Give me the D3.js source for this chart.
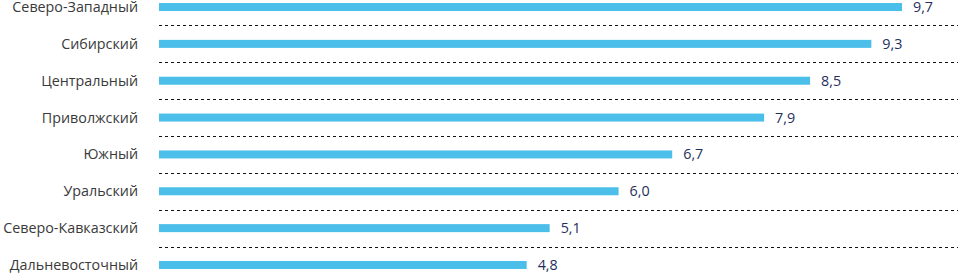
<!DOCTYPE html>
<html>
<head>
<meta charset="utf-8">
<script src="https://cdn.jsdelivr.net/npm/d3@7"></script>
<style>
  body { margin: 0; background: #fff; }
  svg { display: block; }
</style>
</head>
<body>
<script>
// данные по федеральным округам
const regions = ['Северо-Западный', 'Сибирский', 'Центральный', 'Приволжский', 'Южный', 'Уральский', 'Северо-Кавказский', 'Дальневосточный'];
const values = [9.7, 9.3, 8.5, 7.9, 6.7, 6.0, 5.1, 4.8];

const W = 958, H = 274;
const left = 159;

const svg = d3.select('body').append('svg')
    .attr('width', W)
    .attr('height', H);

const x = d3.scaleLinear()
    .domain([0, 9.7])
    .range([left, 902]);

const y = d3.scaleBand()
    .domain(regions)
    .range([-11.4, 283.4]);

// пунктирные разделители между строками
svg.append('g')
    .selectAll('line')
    .data(regions.slice(1))
    .join('line')
    .attr('x1', left)
    .attr('x2', W)
    .attr('y1', d => Math.round(y(d)) + 0.5)
    .attr('y2', d => Math.round(y(d)) + 0.5)
    .attr('stroke', '#111')
    .attr('stroke-width', 1)
    .attr('stroke-dasharray', '3,3');

const row = svg.append('g')
    .selectAll('g')
    .data(regions)
    .join('g')
    .attr('transform', d => `translate(0,${y(d) + y.bandwidth() / 2})`);

row.append('rect')
    .attr('x', x(0))
    .attr('y', -4)
    .attr('height', 8)
    .attr('width', (d, i) => x(values[i]) - x(0))
    .attr('fill', '#4bbfe9');

row.append('text')
    .attr('x', 138)
    .attr('dy', '0.35em')
    .attr('text-anchor', 'end')
    .style('font', '14.3px "Open Sans", sans-serif')
    .attr('fill', '#3a3a3a')
    .text(d => d);

row.append('text')
    .attr('x', (d, i) => x(values[i]) + 11)
    .attr('dy', '0.35em')
    .style('font', '14.3px "Open Sans", sans-serif')
    .attr('fill', '#1f2f5c')
    .text((d, i) => d3.format('.1f')(values[i]).replace('.', ','));
</script>
</body>
</html>
